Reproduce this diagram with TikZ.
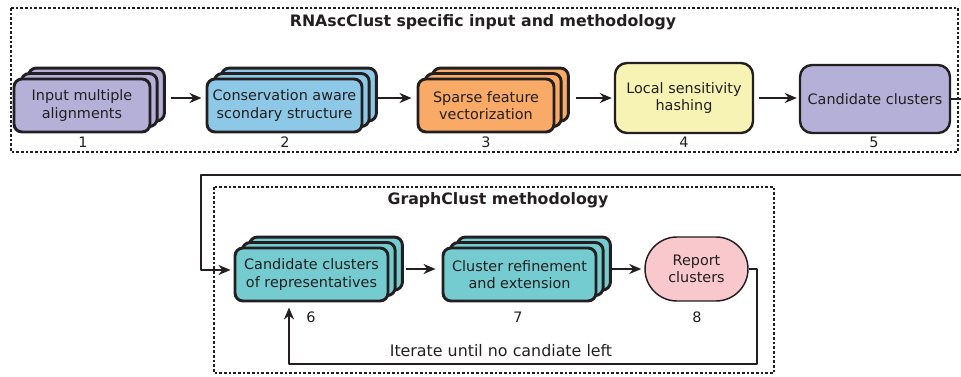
\documentclass[tikz,border=0pt]{standalone}
\usepackage{fontspec}
\setmainfont{DejaVu Sans}
\usetikzlibrary{arrows.meta,calc,shadows}

\definecolor{ink}{RGB}{35,31,32}
\definecolor{lavender}{RGB}{180,176,216}
\definecolor{skyblue}{RGB}{141,200,230}
\definecolor{apricot}{RGB}{248,170,102}
\definecolor{paleyellow}{RGB}{246,243,180}
\definecolor{teal}{RGB}{117,204,208}
\definecolor{rosepink}{RGB}{248,200,205}

\begin{document}
\begin{tikzpicture}[
    x=0.75pt,
    y=-0.75pt,
    line join=round,
    every node/.style={text=ink},
    stackbox/.style 2 args={draw=ink, line width=2.2pt, fill=#2,
        rounded corners=6pt, minimum width=#1, minimum height=39.75pt,
        inner sep=0pt, align=center, font=\fontsize{10.8}{13}\selectfont,
        copy shadow={shadow xshift=10.8pt, shadow yshift=8.2pt, fill=#2, draw=ink},
        copy shadow={shadow xshift=5.4pt, shadow yshift=4.1pt, fill=#2, draw=ink}},
    plainbox/.style={draw=ink, line width=1.8pt, rounded corners=9pt,
        inner sep=0pt, align=center, font=\fontsize{10.8}{13}\selectfont},
    reportbox/.style={draw=ink, line width=1.1pt, fill=rosepink,
        rounded corners=24pt, minimum width=77.25pt, minimum height=48pt,
        inner sep=0pt, align=center, font=\fontsize{10.8}{13}\selectfont},
    num/.style={font=\fontsize{10.8}{13}\selectfont},
    title/.style={font=\bfseries\fontsize{11.8}{14}\selectfont},
    frame/.style={draw=ink, line width=1pt, dash pattern=on 2pt off 1.5pt},
    link/.style={draw=ink, line width=1.6pt, -{Stealth[length=9pt,width=7.5pt]}}
]
    \useasboundingbox (0,0) rectangle (961,377);

    % RNAscClust part
    \draw[frame] (11,8) rectangle (958,152);
    \node[title] (t1) at (483,22) {RNAscClust specific input and methodology};

    \node[stackbox={102pt}{lavender}] (n1) at (82,105.5) {Input multiple\\alignments};
    \node[stackbox={116.25pt}{skyblue}] (n2) at (284.5,105.5) {Conservation aware\\scondary structure};
    \node[stackbox={102pt}{apricot}] (n3) at (486,105.5) {Sparse feature\\vectorization};
    \node[plainbox, fill=paleyellow, minimum width=103.5pt, minimum height=52.5pt] (n4) at (684,98) {Local sensitivity\\hashing};
    \node[plainbox, fill=lavender, minimum width=112.5pt, minimum height=51pt] (n5) at (875,99) {Candidate clusters};

    \foreach \i/\x in {1/83, 2/285, 3/486, 4/684, 5/874}
        \node[num] (l\i) at (\x,142) {\i};

    \draw[link] ($(n1.east |- n4)+(20,0)$) -- ($(n2.west |- n4)+(-4,0)$);
    \draw[link] ($(n2.east |- n4)+(13,0)$) -- ($(n3.west |- n4)+(-5,0)$);
    \draw[link] ($(n3.east |- n4)+(21,0)$) -- ($(n4.west)+(-2,0)$);
    \draw[link] ($(n4.east)+(5,0)$) -- ($(n5.west |- n4)+(-2,0)$);

    % GraphClust part
    \draw[frame] (214,187) rectangle (774,373);
    \node[title] (t2) at (498,200) {GraphClust methodology};

    \node[stackbox={114.75pt}{teal}] (n6) at (311.5,274.5) {Candidate clusters\\of representatives};
    \node[stackbox={114.75pt}{teal}] (n7) at (519.5,274.5) {Cluster refinement\\and extension};
    \node[reportbox] (n8) at (696.5,269) {Report\\clusters};

    \foreach \i/\x in {6/311, 7/518, 8/697}
        \node[num] (l\i) at (\x,317) {\i};

    \draw[link] ($(n6.east |- n8)+(17,0)$) -- ($(n7.west |- n8)+(-6,0)$);
    \draw[link] ($(n7.east |- n8)+(15,0)$) -- ($(n8.west)+(-3,0)$);

    % from part 1 to part 2
    \coordinate (c1) at (975,175);
    \coordinate (c2) at (201,175);
    \draw[link] (n5.east) -| (c1) -- (c2) |- ($(n6.west)+(-3,-4.5)$);

    % iteration loop
    \coordinate (r1) at (757,364);
    \coordinate (r2) at (289,364);
    \draw[link] (n8.east) -| (r1) -- (r2) -- ($(r2 |- n6.south)+(0,5)$);
    \node[font=\fontsize{11.9}{14}\selectfont] (it) at (501,351) {Iterate until no candiate left};

\end{tikzpicture}
\end{document}
